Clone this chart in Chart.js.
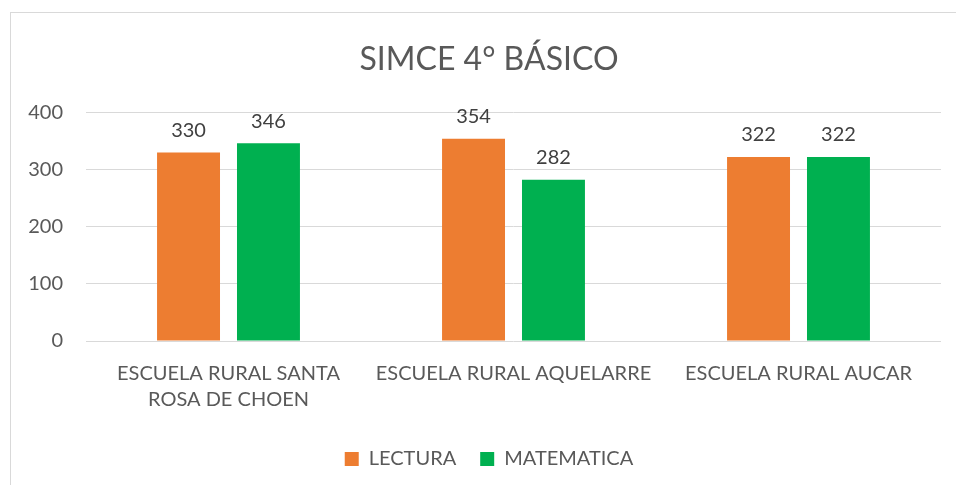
<!DOCTYPE html>
<html><head><meta charset="utf-8">
<script src="https://cdn.jsdelivr.net/npm/chart.js@4/dist/chart.umd.min.js"></script>
<style>
html,body{margin:0;padding:0;background:#fff;overflow:hidden;}
#frame{position:absolute;left:10px;top:12px;width:968px;height:490px;border:1px solid #D9D9D9;box-sizing:border-box;}
#wrap{position:absolute;left:0;top:0;width:978px;height:485px;}
</style></head>
<body>
<div id="frame"></div>
<div id="wrap"><canvas id="c" width="978" height="485"></canvas></div>
<script>
const categories = [['ESCUELA RURAL SANTA','ROSA DE CHOEN'], 'ESCUELA RURAL AQUELARRE', 'ESCUELA RURAL AUCAR'];
const lectura = [330, 354, 322];
const matematica = [346, 282, 322];
const yTicks = [0, 100, 200, 300, 400];
const seriesNames = ['LECTURA', 'MATEMATICA'];

const FONT = 'Lato';
const valueLabels = {
  id: 'valueLabels',
  afterDatasetsDraw(chart) {
    const ctx = chart.ctx;
    ctx.save();
    ctx.font = '20px ' + FONT;
    ctx.fillStyle = '#404040';
    ctx.textAlign = 'center';
    ctx.textBaseline = 'bottom';
    chart.data.datasets.forEach((ds, i) => {
      chart.getDatasetMeta(i).data.forEach((bar, j) => {
        ctx.fillText(String(ds.data[j]), bar.x, bar.y - 12);
      });
    });
    ctx.restore();
  }
};

new Chart(document.getElementById('c'), {
  type: 'bar',
  data: {
    labels: categories,
    datasets: [
      {label: seriesNames[0], data: lectura, backgroundColor: '#ED7D31', categoryPercentage: 0.561, barPercentage: 0.7875},
      {label: seriesNames[1], data: matematica, backgroundColor: '#00B050', categoryPercentage: 0.561, barPercentage: 0.7875}
    ]
  },
  options: {
    responsive: false,
    animation: false,
    layout: {padding: {left: 0, right: 0, top: 0, bottom: 6}},
    plugins: {
      title: {display: true, text: 'SIMCE 4° BÁSICO', color: '#595959', font: {family: FONT, size: 32, weight: 'normal'}, padding: {top: 40, bottom: 34}},
      legend: {position: 'bottom', labels: {color: '#595959', font: {family: FONT, size: 20}, boxWidth: 14, boxHeight: 14, padding: 24}},
      tooltip: {enabled: false}
    },
    scales: {
      x: {
        grid: {display: false, drawBorder: false},
        border: {display: false},
        ticks: {color: '#595959', font: {family: FONT, size: 20, lineHeight: 1.3}, padding: 12, maxRotation: 0, autoSkip: false}
      },
      y: {
        min: 0, max: 400,
        afterBuildTicks(scale) { scale.ticks = yTicks.map(v => ({value: v})); },
        afterFit(scale) { scale.width = 86; },
        grid: {color: '#D9D9D9', drawTicks: false, lineWidth: 1},
        border: {display: false},
        ticks: {color: '#595959', font: {family: FONT, size: 20}, padding: 23}
      },
      yRight: {
        position: 'right',
        min: 0, max: 400,
        afterFit(scale) { scale.width = 37; },
        grid: {display: false, drawTicks: false},
        border: {display: false},
        ticks: {display: false}
      }
    }
  },
  plugins: [valueLabels]
});
</script>
</body></html>
